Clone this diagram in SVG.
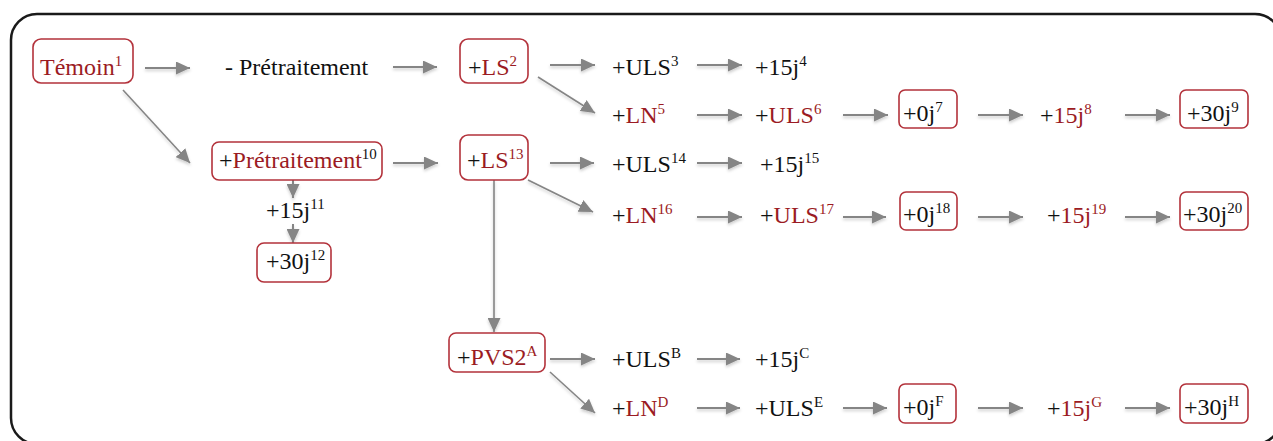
<svg xmlns="http://www.w3.org/2000/svg" width="1273" height="441" viewBox="0 0 1273 441">
<style>
.t{font-family:'Liberation Serif','Times New Roman',serif;font-size:24px;fill:#111}
.r{fill:#9b1b23}
.s{font-size:15px}
.box{fill:#fff;stroke:#b3323b;stroke-width:1.6}
.c line{stroke:#858585;stroke-width:2;fill:none;marker-end:url(#ah)}
.c .d{stroke-width:1.6}
</style>
<defs>
<marker id="ah" markerUnits="userSpaceOnUse" markerWidth="15" markerHeight="13" refX="14" refY="6.5" orient="auto">
<path d="M0,0 L14,6.5 L0,13 z" fill="#858585" stroke="none"/>
</marker>
<filter id="sh" x="-10%" y="-50%" width="120%" height="200%">
<feDropShadow dx="0" dy="2" stdDeviation="1.5" flood-color="#000" flood-opacity="0.2"/>
</filter>
</defs>
<rect x="11" y="14" width="1270" height="430" rx="26" fill="#fff" stroke="#1a1a1a" stroke-width="2.5"/>

<g id="connectors" class="c" filter="url(#sh)">
<line x1="145" y1="68" x2="190" y2="68"/>
<line x1="393" y1="67" x2="437" y2="67"/>
<line x1="550" y1="65" x2="595" y2="65"/>
<line x1="697" y1="65" x2="742" y2="65"/>
<line class="d" x1="538" y1="77" x2="595" y2="113"/>
<line x1="697" y1="115" x2="742" y2="115"/>
<line x1="843" y1="115" x2="888" y2="115"/>
<line x1="978" y1="115" x2="1023" y2="115"/>
<line x1="1125" y1="115" x2="1170" y2="115"/>
<line class="d" x1="123" y1="90" x2="190" y2="163"/>
<line x1="293" y1="180" x2="293" y2="198"/>
<line x1="293" y1="224" x2="293" y2="243"/>
<line x1="393" y1="163" x2="438" y2="163"/>
<line x1="550" y1="163" x2="594" y2="163"/>
<line x1="697" y1="163" x2="742" y2="163"/>
<line class="d" x1="528" y1="180" x2="593" y2="212"/>
<line x1="697" y1="217" x2="742" y2="217"/>
<line x1="843" y1="217" x2="886" y2="217"/>
<line x1="978" y1="217" x2="1023" y2="217"/>
<line x1="1125" y1="217" x2="1170" y2="217"/>
<line class="d" x1="494" y1="180" x2="494" y2="332"/>
<line x1="550" y1="359" x2="595" y2="359"/>
<line x1="697" y1="359" x2="740" y2="359"/>
<line class="d" x1="550" y1="372" x2="595" y2="413"/>
<line x1="697" y1="408" x2="740" y2="408"/>
<line x1="843" y1="408" x2="887" y2="408"/>
<line x1="978" y1="408" x2="1023" y2="408"/>
<line x1="1125" y1="408" x2="1170" y2="408"/>
</g>

<g id="nodes" font-family="Liberation Serif, Times New Roman, serif">
<g id="n1"><rect class="box" x="33" y="39" width="100" height="44" rx="8"/><text class="t r" x="40" y="75">Témoin<tspan class="s" dy="-9">1</tspan></text></g>
<g id="n-pre"><text class="t" x="225" y="75">- Prétraitement</text></g>
<g id="n2"><rect class="box" x="460" y="39" width="68" height="44" rx="8"/><text class="t" x="468" y="75">+<tspan class="r">LS<tspan class="s" dy="-9">2</tspan></tspan></text></g>
<g id="n3"><text class="t" x="612" y="75">+ULS<tspan class="s" dy="-9">3</tspan></text></g>
<g id="n4"><text class="t" x="755" y="75">+15j<tspan class="s" dy="-9">4</tspan></text></g>
<g id="n5"><text class="t" x="612" y="123">+<tspan class="r">LN<tspan class="s" dy="-9">5</tspan></tspan></text></g>
<g id="n6"><text class="t" x="755" y="123">+<tspan class="r">ULS<tspan class="s" dy="-9">6</tspan></tspan></text></g>
<g id="n7"><rect class="box" x="899" y="90" width="58" height="38" rx="6"/><text class="t" x="903" y="121">+0j<tspan class="s" dy="-9">7</tspan></text></g>
<g id="n8"><text class="t" x="1040" y="123">+<tspan class="r">15j<tspan class="s" dy="-9">8</tspan></tspan></text></g>
<g id="n9"><rect class="box" x="1180" y="90" width="68" height="38" rx="6"/><text class="t" x="1187" y="121">+30j<tspan class="s" dy="-9">9</tspan></text></g>

<g id="n10"><rect class="box" x="212" y="142" width="170" height="38" rx="7"/><text class="t" x="219" y="168">+<tspan class="r">Prétraitement</tspan><tspan class="s" dy="-9">10</tspan></text></g>
<g id="n11"><text class="t" x="266" y="218">+15j<tspan class="s" dy="-9">11</tspan></text></g>
<g id="n12"><rect class="box" x="257" y="243" width="74" height="39" rx="7"/><text class="t" x="266" y="269">+30j<tspan class="s" dy="-9">12</tspan></text></g>
<g id="n13"><rect class="box" x="460" y="135" width="68" height="45" rx="8"/><text class="t" x="467" y="168">+<tspan class="r">LS<tspan class="s" dy="-9">13</tspan></tspan></text></g>
<g id="n14"><text class="t" x="612" y="172">+ULS<tspan class="s" dy="-9">14</tspan></text></g>
<g id="n15"><text class="t" x="760" y="172">+15j<tspan class="s" dy="-9">15</tspan></text></g>
<g id="n16"><text class="t" x="612" y="223">+<tspan class="r">LN<tspan class="s" dy="-9">16</tspan></tspan></text></g>
<g id="n17"><text class="t" x="760" y="223">+<tspan class="r">ULS<tspan class="s" dy="-9">17</tspan></tspan></text></g>
<g id="n18"><rect class="box" x="900" y="192" width="57" height="38" rx="6"/><text class="t" x="903" y="222">+0j<tspan class="s" dy="-9">18</tspan></text></g>
<g id="n19"><text class="t" x="1047" y="223">+<tspan class="r">15j<tspan class="s" dy="-9">19</tspan></tspan></text></g>
<g id="n20"><rect class="box" x="1180" y="192" width="68" height="38" rx="6"/><text class="t" x="1183" y="222">+30j<tspan class="s" dy="-9">20</tspan></text></g>

<g id="nA"><rect class="box" x="449" y="333" width="96" height="39" rx="7"/><text class="t" x="457" y="365">+<tspan class="r">PVS2<tspan class="s" dy="-9">A</tspan></tspan></text></g>
<g id="nB"><text class="t" x="612" y="367">+ULS<tspan class="s" dy="-9">B</tspan></text></g>
<g id="nC"><text class="t" x="755" y="367">+15j<tspan class="s" dy="-9">C</tspan></text></g>
<g id="nD"><text class="t" x="612" y="416">+<tspan class="r">LN<tspan class="s" dy="-9">D</tspan></tspan></text></g>
<g id="nE"><text class="t" x="755" y="416">+ULS<tspan class="s" dy="-9">E</tspan></text></g>
<g id="nF"><rect class="box" x="899" y="384" width="57" height="39" rx="6"/><text class="t" x="903" y="415">+0j<tspan class="s" dy="-9">F</tspan></text></g>
<g id="nG"><text class="t" x="1047" y="416">+<tspan class="r">15j<tspan class="s" dy="-9">G</tspan></tspan></text></g>
<g id="nH"><rect class="box" x="1180" y="384" width="68" height="39" rx="6"/><text class="t" x="1184" y="415">+30j<tspan class="s" dy="-9">H</tspan></text></g>
</g>
</svg>
